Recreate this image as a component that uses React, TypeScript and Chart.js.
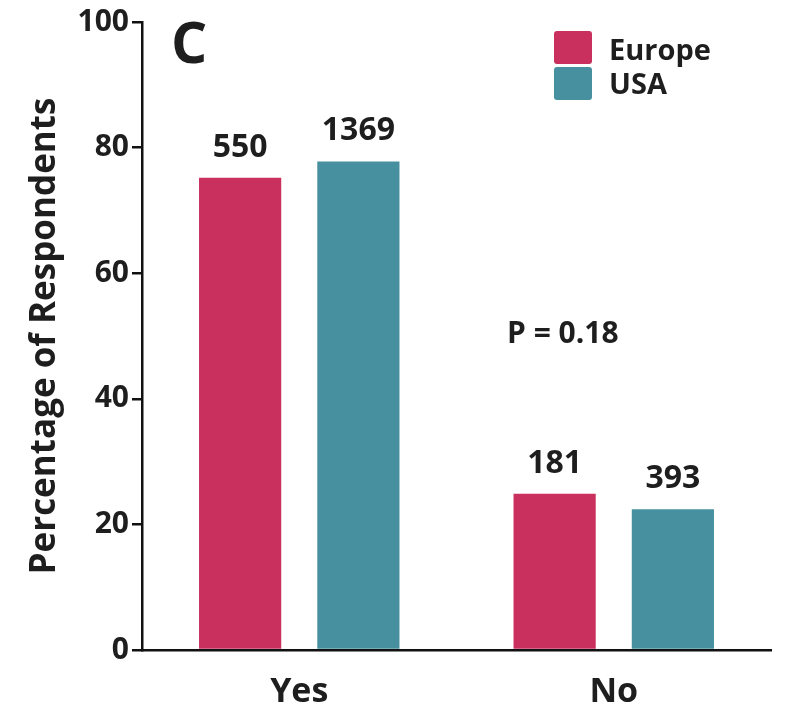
import React, { useEffect, useRef } from "react";
import { Chart, registerables } from "chart.js";

Chart.register(...registerables);

const categories = ["Yes", "No"];
const europePct = [75.2, 24.9];
const usaPct = [77.8, 22.4];
const europeCounts = ["550", "181"];
const usaCounts = ["1369", "393"];
const seriesNames = ["Europe", "USA"];
const yTicks = [0, 20, 40, 60, 80, 100];

const PINK = "#C9305E";
const TEAL = "#4690A0";
const TEXT = "#1e1e1e";
const FONT = "'Open Sans', sans-serif";

const overlayPlugin = {
  id: "overlay",
  afterDatasetsDraw(chart: any) {
    const ctx = chart.ctx;
    ctx.save();
    ctx.fillStyle = TEXT;
    ctx.textAlign = "center";
    ctx.textBaseline = "alphabetic";
    ctx.font = `bold 32px ${FONT}`;
    const counts = [europeCounts, usaCounts];
    chart.data.datasets.forEach((_: any, di: number) => {
      const meta = chart.getDatasetMeta(di);
      meta.data.forEach((el: any, i: number) => {
        ctx.fillText(counts[di][i], el.x, el.y - 21);
      });
    });
    // panel letter
    ctx.textAlign = "left";
    ctx.font = `bold 57px ${FONT}`;
    ctx.fillText("C", 171, 63);
    // p-value
    ctx.font = `bold 30px ${FONT}`;
    ctx.fillText("P = 0.18", 507, 343);
    // legend
    const colors = [PINK, TEAL];
    const boxY = [31, 67];
    const textY = [60, 94];
    ctx.font = `bold 29px ${FONT}`;
    seriesNames.forEach((name, i) => {
      ctx.fillStyle = colors[i];
      ctx.beginPath();
      (ctx as any).roundRect(554, boxY[i], 38, 33, 3);
      ctx.fill();
      ctx.fillStyle = TEXT;
      ctx.fillText(name, 609, textY[i]);
    });
    ctx.restore();
  },
};

export default function App() {
  const ref = useRef<HTMLCanvasElement>(null);
  useEffect(() => {
    if (!ref.current) return;
    const chart = new Chart(ref.current, {
      type: "bar",
      data: {
        labels: categories,
        datasets: [
          {
            label: seriesNames[0],
            data: europePct,
            backgroundColor: PINK,
            categoryPercentage: 0.752,
            barPercentage: 0.695,
          },
          {
            label: seriesNames[1],
            data: usaPct,
            backgroundColor: TEAL,
            categoryPercentage: 0.752,
            barPercentage: 0.695,
          },
        ],
      },
      options: {
        animation: false,
        responsive: false,
        maintainAspectRatio: false,
        layout: { padding: { top: 22, right: 14, left: 0, bottom: 0 } },
        plugins: { legend: { display: false }, tooltip: { enabled: false } },
        scales: {
          x: {
            grid: { display: false, drawTicks: false },
            border: { display: true, color: "#111", width: 2.5 },
            ticks: { color: TEXT, font: { family: FONT, size: 34, weight: "bold" }, padding: 22 },
            afterFit(scale: any) {
              scale.height = 61;
            },
          },
          y: {
            min: 0,
            max: 100,
            afterBuildTicks(scale: any) {
              scale.ticks = yTicks.map((v) => ({ value: v }));
            },
            grid: { drawOnChartArea: false, drawTicks: true, tickLength: 10, color: "#111", lineWidth: 2.5 },
            border: { display: true, color: "#111", width: 2.5 },
            ticks: { color: TEXT, font: { family: FONT, size: 30, weight: "bold" }, padding: 3 },
            title: {
              display: true,
              text: "Percentage of Respondents",
              color: TEXT,
              font: { family: FONT, size: 35, weight: "bold" },
              padding: { top: 24, bottom: 0 },
            },
            afterFit(scale: any) {
              scale.width = 142;
            },
          },
        },
      },
      plugins: [overlayPlugin],
    });
    return () => chart.destroy();
  }, []);
  return (
    <div style={{ position: "fixed", left: 0, top: 0, width: 785, height: 711, background: "#fff" }}>
      <canvas ref={ref} width={785} height={711} style={{ width: 785, height: 711 }} />
    </div>
  );
}
